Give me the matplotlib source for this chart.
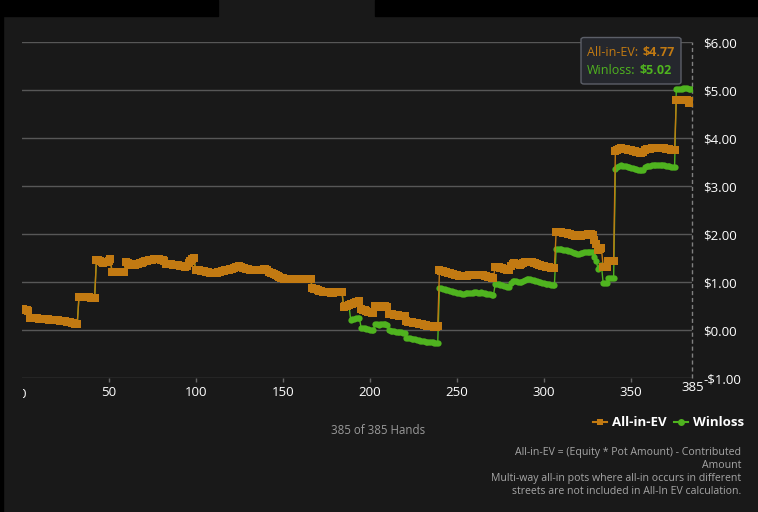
import numpy as np
import matplotlib
matplotlib.use("Agg")
import matplotlib.pyplot as plt
from matplotlib.patches import Rectangle, FancyBboxPatch
from matplotlib.lines import Line2D
from matplotlib.transforms import Bbox

# all-in EV per hand (0..385)
ev_values = [
    0.43, 0.43, 0.42, 0.41, 0.40,
    0.25, 0.25, 0.24, 0.24, 0.24, 0.23, 0.23, 0.23, 0.22, 0.22, 0.22, 0.21, 0.21, 0.21,
    0.20, 0.20, 0.20, 0.19, 0.19, 0.18, 0.18, 0.17, 0.17, 0.16, 0.15, 0.14, 0.13, 0.12,
    0.69, 0.69, 0.69, 0.68, 0.68, 0.68, 0.68, 0.67, 0.67, 0.67,
    1.46, 1.45, 1.43, 1.41, 1.40, 1.41, 1.42, 1.44, 1.48,
    1.20, 1.20, 1.20, 1.20, 1.20, 1.20, 1.20, 1.20,
    1.42, 1.40, 1.37, 1.35, 1.35, 1.36, 1.37, 1.38, 1.39, 1.40,
    1.42, 1.43, 1.44, 1.45, 1.46, 1.46, 1.47, 1.47, 1.47, 1.47,
    1.46, 1.45, 1.44, 1.38, 1.38, 1.37, 1.37, 1.36, 1.36, 1.35,
    1.35, 1.34, 1.33, 1.33, 1.32, 1.33, 1.40, 1.44, 1.47, 1.49,
    1.25, 1.24, 1.24, 1.23, 1.23, 1.22, 1.21, 1.20, 1.19, 1.19,
    1.18, 1.18, 1.19, 1.20, 1.21, 1.22, 1.23, 1.24, 1.25, 1.26,
    1.27, 1.28, 1.29, 1.31, 1.32, 1.33, 1.31, 1.30, 1.29, 1.28,
    1.27, 1.26, 1.26, 1.25, 1.25, 1.24, 1.24, 1.25, 1.26, 1.27,
    1.27, 1.26, 1.20, 1.19, 1.18, 1.17, 1.15, 1.13, 1.11, 1.09,
    1.08, 1.07, 1.06, 1.06, 1.06, 1.06, 1.06, 1.06, 1.06, 1.06,
    1.06, 1.06, 1.06, 1.06, 1.06, 1.06, 1.06,
    0.87, 0.86, 0.85, 0.84, 0.82, 0.81, 0.80, 0.79, 0.79, 0.79,
    0.79, 0.78, 0.78, 0.79, 0.79, 0.79, 0.79, 0.79,
    0.48, 0.49, 0.50, 0.52, 0.54, 0.55, 0.57, 0.58, 0.59, 0.60,
    0.43, 0.42, 0.41, 0.40, 0.38, 0.37, 0.36, 0.36,
    0.49, 0.49, 0.48, 0.49, 0.50, 0.50, 0.49, 0.48,
    0.34, 0.33, 0.33, 0.32, 0.31, 0.31, 0.30, 0.30, 0.29, 0.29,
    0.18, 0.17, 0.17, 0.16, 0.15, 0.15, 0.14, 0.13, 0.12, 0.12,
    0.11, 0.10, 0.09, 0.09, 0.08, 0.08, 0.07, 0.07, 0.08,
    1.24, 1.23, 1.22, 1.21, 1.20, 1.19, 1.18, 1.17, 1.16, 1.15,
    1.14, 1.13, 1.13, 1.12, 1.12, 1.13, 1.13, 1.14, 1.14, 1.14,
    1.15, 1.15, 1.14, 1.14, 1.15, 1.14, 1.13, 1.12, 1.11, 1.10, 1.09, 1.08,
    1.32, 1.32, 1.31, 1.30, 1.29, 1.28, 1.27, 1.26, 1.26, 1.33,
    1.38, 1.39, 1.38, 1.37, 1.36, 1.37, 1.39, 1.41, 1.42, 1.42,
    1.42, 1.41, 1.40, 1.39, 1.38, 1.36, 1.35, 1.34, 1.33, 1.32, 1.31, 1.31, 1.30, 1.30, 1.30,
    2.05, 2.05, 2.04, 2.04, 2.03, 2.03, 2.02, 2.01, 2.00, 1.98,
    1.97, 1.96, 1.95, 1.95, 1.96, 1.97, 1.98, 1.98, 1.99, 1.99, 1.99, 1.98, 1.88,
    1.80, 1.66, 1.68, 1.70, 1.32, 1.32, 1.32, 1.44, 1.44, 1.44, 1.44,
    3.72, 3.76, 3.78, 3.79, 3.78, 3.78, 3.77, 3.76, 3.75, 3.74,
    3.73, 3.72, 3.71, 3.70, 3.69, 3.69, 3.70, 3.76, 3.77, 3.78,
    3.78, 3.79, 3.79, 3.79, 3.80, 3.80, 3.80, 3.79, 3.79, 3.78, 3.78, 3.77, 3.76, 3.76, 3.75,
    4.79, 4.79, 4.79, 4.79, 4.80, 4.80, 4.80, 4.73, 4.72, 4.77,
]

# winloss follows the EV line until hand 188, then splits off
winloss_tail = [
    0.21, 0.22, 0.23, 0.24, 0.24, 0.25,
    0.05, 0.04, 0.04, 0.03, 0.02, 0.01, 0.00, -0.01,
    0.12, 0.12, 0.11, 0.12, 0.13, 0.13, 0.12, 0.11,
    -0.01, -0.02, -0.02, -0.03, -0.04, -0.04, -0.05, -0.05, -0.06, -0.06,
    -0.16, -0.17, -0.17, -0.18, -0.19, -0.19, -0.20, -0.21, -0.22, -0.22,
    -0.23, -0.24, -0.25, -0.25, -0.26, -0.26, -0.27, -0.28, -0.27,
    0.88, 0.87, 0.86, 0.85, 0.84, 0.83, 0.82, 0.81, 0.80, 0.79,
    0.78, 0.77, 0.77, 0.76, 0.76, 0.77, 0.77, 0.78, 0.78, 0.78,
    0.79, 0.79, 0.78, 0.78, 0.79, 0.78, 0.77, 0.76, 0.75, 0.74, 0.73, 0.72,
    0.96, 0.96, 0.95, 0.94, 0.93, 0.92, 0.91, 0.90, 0.90, 0.97,
    1.02, 1.03, 1.02, 1.01, 1.00, 1.01, 1.03, 1.05, 1.06, 1.06,
    1.06, 1.05, 1.04, 1.03, 1.02, 1.00, 0.99, 0.98, 0.97, 0.96, 0.95, 0.95, 0.94, 0.94, 0.94,
    1.69, 1.69, 1.68, 1.68, 1.67, 1.67, 1.66, 1.65, 1.64, 1.62,
    1.61, 1.60, 1.59, 1.59, 1.60, 1.61, 1.62, 1.62, 1.63, 1.63, 1.63, 1.62, 1.52,
    1.44, 1.28, 1.32, 1.35, 0.97, 0.97, 0.97, 1.08, 1.08, 1.08, 1.08,
    3.36, 3.40, 3.42, 3.43, 3.42, 3.42, 3.41, 3.40, 3.39, 3.38,
    3.37, 3.36, 3.35, 3.34, 3.33, 3.33, 3.34, 3.40, 3.41, 3.42,
    3.42, 3.43, 3.43, 3.43, 3.44, 3.44, 3.44, 3.43, 3.43, 3.42, 3.42, 3.41, 3.40, 3.40, 3.39,
    5.03, 5.03, 5.03, 5.03, 5.04, 5.04, 5.04, 5.03, 5.02, 5.02,
]
winloss_values = ev_values[:189] + winloss_tail

x_ticks = [50, 100, 150, 200, 250, 300, 350]
y_ticks = [-1, 0, 1, 2, 3, 4, 5, 6]
total_hands = 385

notes = ["All-in-EV = (Equity * Pot Amount) - Contributed",
         "Amount",
         "Multi-way all-in pots where all-in occurs in different",
         "streets are not included in All-In EV calculation."]

BG = "#191919"
ORANGE = "#c27a12"
GREEN = "#4fb31f"
W, H = 758, 512

plt.rcParams['font.family'] = ['Open Sans', 'DejaVu Sans']

fig = plt.figure(figsize=(W / 100, H / 100), dpi=100, facecolor=BG)

def fx(px):
    return px / W

def fy(py):
    return 1 - py / H

# black strips round the panel
fig.patches.append(Rectangle((0, fy(16)), fx(218), 16 / H, transform=fig.transFigure,
                             color="black", zorder=0))
fig.patches.append(Rectangle((fx(375), fy(16)), 1 - fx(375), 16 / H, transform=fig.transFigure,
                             color="black", zorder=0))
fig.patches.append(Rectangle((0, 0), fx(3), 1, transform=fig.transFigure, color="black", zorder=0))

ax = fig.add_axes([fx(21.5), fy(378), fx(692) - fx(21.5), (378 - 42) / H])
ax.set_facecolor(BG)

hands = np.arange(len(ev_values))
ax.plot(hands, winloss_values, color=GREEN, lw=1, marker="o", ms=4.5, mew=0, zorder=3,
        snap=False)
ax.plot(hands, ev_values, color=ORANGE, lw=1, marker="s", ms=5.2, mew=0, zorder=4,
        snap=False)

ax.set_xlim(0, total_hands)
ax.set_ylim(-1, 6)
for v in y_ticks:
    ax.axhline(v, color="#575757", lw=1, zorder=1)
ax.axvline(total_hands, color="#808080", lw=1, ls=(0, (3, 2)), zorder=2, clip_on=False)

for s in ax.spines.values():
    s.set_visible(False)

ax.set_xticks(x_ticks)
ax.set_xticklabels([str(t) for t in x_ticks])
ax.tick_params(axis="x", colors="#666666", length=3, width=1, pad=3, labelcolor="white",
               labelsize=9.5)
ax.yaxis.tick_right()
ax.set_yticks(y_ticks)
ax.set_yticklabels([("-$%.2f" % -v) if v < 0 else ("$%.2f" % v) for v in y_ticks])
ax.tick_params(axis="y", length=0, pad=8, labelcolor="white", labelsize=9.5)

# half-hidden "0" and raised "385" labels
t0 = fig.text(fx(22), fy(394), "0", color="white", fontsize=9.5, ha="center", va="center")
t0.set_clip_box(Bbox.from_extents(23, 0, W, H))
t0.set_clip_on(True)
fig.text(fx(692.5), fy(387.5), "385", color="white", fontsize=9.5, ha="center", va="center")

# tooltip
fig.patches.append(FancyBboxPatch((fx(581), fy(84)), fx(681) - fx(581), (84 - 37.5) / H,
                                  boxstyle="round,pad=0,rounding_size=0.004",
                                  transform=fig.transFigure, facecolor="#25272d",
                                  edgecolor="#5c5f68", lw=1, zorder=5))
fig.text(fx(587), fy(52.7), "All-in-EV:", color=ORANGE, fontsize=9, va="center", zorder=6)
fig.text(fx(642.5), fy(52.7), "$%.2f" % ev_values[-1], color=ORANGE, fontsize=9,
         fontweight="bold", va="center", zorder=6)
fig.text(fx(587), fy(70.7), "Winloss:", color=GREEN, fontsize=9, va="center", zorder=6)
fig.text(fx(640), fy(70.7), "$%.2f" % winloss_values[-1], color=GREEN, fontsize=9,
         fontweight="bold", va="center", zorder=6)

# legend
fig.lines.append(Line2D([fx(593), fx(607)], [fy(422), fy(422)], transform=fig.transFigure,
                        color=ORANGE, lw=1.5))
fig.lines.append(Line2D([fx(600)], [fy(422)], transform=fig.transFigure,
                        color=ORANGE, marker="s", ms=5, mew=0, ls="none"))
fig.text(fx(612), fy(422), "All-in-EV", color="white", fontsize=9.5, fontweight="bold",
         va="center")
fig.lines.append(Line2D([fx(674), fx(688)], [fy(422), fy(422)], transform=fig.transFigure,
                        color=GREEN, lw=1.5))
fig.lines.append(Line2D([fx(681)], [fy(422)], transform=fig.transFigure,
                        color=GREEN, marker="o", ms=5, mew=0, ls="none"))
fig.text(fx(693), fy(422), "Winloss", color="white", fontsize=9.5, fontweight="bold",
         va="center")

fig.text(fx(378), fy(430), "%d of %d Hands" % (total_hands, total_hands), color="#9a9a9a",
         fontsize=8.3, ha="center", va="center")

for i, line in enumerate(notes):
    fig.text(fx(741), fy(452.3 + 12.9 * i), line, color="#a6a6a6", fontsize=7.6,
             ha="right", va="center")

fig.savefig("out.png", dpi=100, facecolor=BG)
